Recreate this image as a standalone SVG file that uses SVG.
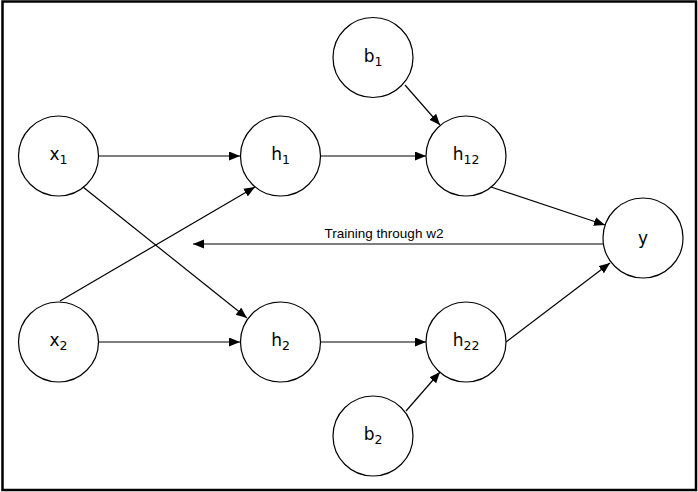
<svg xmlns="http://www.w3.org/2000/svg" width="698" height="492" viewBox="0 0 698 492">
<defs>
<style>
.node{fill:#fff;stroke:#000;stroke-width:1.2}
.lbl{font-family:"DejaVu Sans",sans-serif;font-size:17px;fill:#000;text-anchor:middle}
.sub{font-size:12.5px}
.edge{stroke:#000;stroke-width:1.2;fill:none;marker-end:url(#ah)}
.cap{font-family:"Liberation Sans",Arial,sans-serif;font-size:13.5px;fill:#000;text-anchor:middle}
</style>
<marker id="ah" markerUnits="userSpaceOnUse" markerWidth="12" markerHeight="10" refX="11" refY="4.5" orient="auto">
<path d="M0,0 L11,4.5 L0,9 z" fill="#000"/>
</marker>
</defs>
<rect x="0" y="0" width="698" height="492" fill="#fff"/>
<rect x="2.5" y="1.5" width="693.5" height="488.5" fill="none" stroke="#000" stroke-width="2.5"/>
<g id="connectors">
<line class="edge" x1="99" y1="156" x2="240" y2="156"/>
<line class="edge" x1="83" y1="187" x2="247" y2="318"/>
<line class="edge" x1="60" y1="301" x2="255" y2="187"/>
<line class="edge" x1="99" y1="342" x2="240" y2="342"/>
<line class="edge" x1="321" y1="156" x2="426" y2="156"/>
<line class="edge" x1="405" y1="85" x2="440" y2="125"/>
<line class="edge" x1="491" y1="187" x2="605" y2="225"/>
<line class="edge" x1="321" y1="342" x2="426" y2="342"/>
<line class="edge" x1="406" y1="411" x2="440" y2="372"/>
<line class="edge" x1="506" y1="342" x2="610" y2="263"/>
<line class="edge" x1="603" y1="244" x2="193" y2="244"/>
<text class="cap" x="384" y="238">Training through w2</text>
</g>
<g id="x1"><circle class="node" cx="58.5" cy="156" r="40"/><text class="lbl" x="58.5" y="160">x<tspan class="sub" dy="4">1</tspan></text></g>
<g id="x2"><circle class="node" cx="58.5" cy="342" r="40"/><text class="lbl" x="58.5" y="346">x<tspan class="sub" dy="4">2</tspan></text></g>
<g id="h1"><circle class="node" cx="280.5" cy="156" r="40"/><text class="lbl" x="280.5" y="160">h<tspan class="sub" dy="4">1</tspan></text></g>
<g id="h2"><circle class="node" cx="280.5" cy="342" r="40"/><text class="lbl" x="280.5" y="346">h<tspan class="sub" dy="4">2</tspan></text></g>
<g id="b1"><circle class="node" cx="373" cy="57.5" r="40"/><text class="lbl" x="373" y="62">b<tspan class="sub" dy="4">1</tspan></text></g>
<g id="h12"><circle class="node" cx="466" cy="156" r="40"/><text class="lbl" x="466" y="160">h<tspan class="sub" dy="4">12</tspan></text></g>
<g id="h22"><circle class="node" cx="466" cy="342" r="40"/><text class="lbl" x="466" y="346">h<tspan class="sub" dy="4">22</tspan></text></g>
<g id="b2"><circle class="node" cx="373" cy="436" r="40"/><text class="lbl" x="373" y="440">b<tspan class="sub" dy="4">2</tspan></text></g>
<g id="y"><circle class="node" cx="643" cy="238" r="40"/><text class="lbl" x="643" y="244">y</text></g>
</svg>
